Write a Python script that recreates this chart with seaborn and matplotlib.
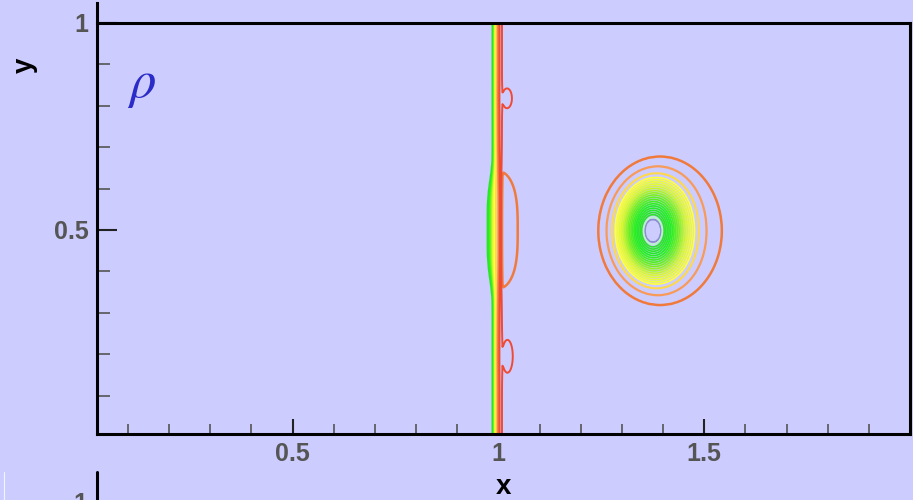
import numpy as np
import matplotlib
matplotlib.use("Agg")
import matplotlib.pyplot as plt
import seaborn as sns

# ---------------------------------------------------------------------------
# Flow-field description (density rho) used to build the contour field
# ---------------------------------------------------------------------------
X_RANGE = (0.0, 2.0)
Y_RANGE = (0.0, 1.0)
DX, DY = 0.0025, 0.004

# states either side of the shock and the extent of the jump
Q_LEFT, Q_RIGHT = 0.09, 1.0
SHOCK_X = [0.986, 1.003]          # start / end of the jump
SHOCK_WIDEN = 0.013               # extra spread of the jump around mid-height
SHOCK_WIDEN_Y = [0.5, 0.13]       # centre, half-height of that spread
OVERSHOOT = [1.0055, 0.0024, 0.40]  # position, width, amplitude behind the shock

# low-density pocket just behind the shock (bulge of the orange line)
POCKET = [1.0, 0.5, 0.047, 0.142, 0.20]   # x0, y0, half-width, half-height, depth

# overshoot islands just behind the shock
ISLAND_X = [1.021, 1.022]
ISLAND_Y = [0.818, 0.195]
ISLAND_RX = [0.012, 0.013]
ISLAND_RY = [0.024, 0.040]
ISLAND_AMP = [0.20, 0.20]

# bubble: outer ring, core centre and radial density profile
BUBBLE_C = [1.393, 0.498]
BUBBLE_R = [0.150, 0.179]
CORE_C = [1.375, 0.498]
CORE_SQUEEZE = 0.85
PROFILE_R = [0.00, 0.16, 0.74, 0.78, 0.87, 1.00, 1.15]
PROFILE_Q = [0.03, 0.06, 0.55, 0.60, 0.75, 0.90, 1.00]

# contour levels and their line colours
CORE_LEVELS = [0.06, 0.08]
CORE_COLORS = ["#8c8cd0", "#b8f4c8"]
DENSE_LEVELS = [0.11, 0.135, 0.16, 0.185, 0.21, 0.235, 0.26, 0.285, 0.31,
                0.335, 0.36, 0.385, 0.41, 0.435, 0.46, 0.485, 0.51, 0.535]
OUTER_LEVELS = [0.60, 0.75, 0.90, 1.10]
OUTER_COLORS = ["#ffd84a", "#f89a58", "#f07a3c", "#f04a34"]

# axes
X_LIM = (0.025, 2.0)
Y_LIM = (0.007, 1.0)
X_MAJOR = [0.5, 1.0, 1.5]
X_MAJOR_LABELS = ["0.5", "1", "1.5"]
X_MINOR = [0.1, 0.2, 0.3, 0.4, 0.6, 0.7, 0.8, 0.9, 1.1, 1.2, 1.3, 1.4,
           1.6, 1.7, 1.8, 1.9]
Y_MAJOR = [0.5, 1.0]
Y_MAJOR_LABELS = ["0.5", "1"]
Y_MINOR = [0.1, 0.2, 0.3, 0.4, 0.6, 0.7, 0.8, 0.9]

BG = "#ccccff"

# ---------------------------------------------------------------------------
sns.set_theme(style="white", rc={"axes.facecolor": BG, "figure.facecolor": BG})
plt.rcParams["font.family"] = ["Liberation Sans", "DejaVu Sans"]
plt.rcParams["mathtext.fontset"] = "stix"

x = np.arange(X_RANGE[0], X_RANGE[1] + DX / 2, DX)
y = np.arange(Y_RANGE[0], Y_RANGE[1] + DY / 2, DY)
X, Y = np.meshgrid(x, y)

# shock ramp
xa = SHOCK_X[0] - SHOCK_WIDEN * np.exp(-((Y - SHOCK_WIDEN_Y[0]) / SHOCK_WIDEN_Y[1]) ** 4)
t = np.clip((X - xa) / (SHOCK_X[1] - xa), 0.0, 1.0)

# bubble radial coordinate (outer ellipse blended into the offset core)
r1 = np.hypot((X - BUBBLE_C[0]) / BUBBLE_R[0], (Y - BUBBLE_C[1]) / BUBBLE_R[1])
r2 = np.hypot((X - CORE_C[0]) / (BUBBLE_R[0] * CORE_SQUEEZE), (Y - CORE_C[1]) / BUBBLE_R[1])
w = np.clip(r1, 0.0, 1.0) ** 2
r = w * r1 + (1 - w) * r2
q_bubble = np.interp(r, PROFILE_R, PROFILE_Q) * Q_RIGHT

d = (np.abs(X - POCKET[0]) / POCKET[2]) ** 2 + (np.abs(Y - POCKET[1]) / POCKET[3]) ** 3
pocket = POCKET[4] * 0.5 ** d

islands = np.zeros_like(X)
for cx, cy, rx, ry, a in zip(ISLAND_X, ISLAND_Y, ISLAND_RX, ISLAND_RY, ISLAND_AMP):
    islands += a * 0.5 ** (((X - cx) / rx) ** 2 + ((Y - cy) / ry) ** 2)

over = OVERSHOOT[2] * np.exp(-((X - OVERSHOOT[0]) / OVERSHOOT[1]) ** 2)

right_state = q_bubble - pocket + islands + over
Q = Q_LEFT + (right_state - Q_LEFT) * t

levels = CORE_LEVELS + DENSE_LEVELS + OUTER_LEVELS
dense_colors = sns.blend_palette(["#30e030", "#22f022", "#70f020", "#d8f830", "#ffff40"],
                                 len(DENSE_LEVELS), as_cmap=False)
colors = CORE_COLORS + [matplotlib.colors.to_hex(c) for c in dense_colors] + OUTER_COLORS
widths = [1.3, 1.3] + [1.25] * len(DENSE_LEVELS) + [1.5, 1.6, 1.8, 1.4]

fig = plt.figure(figsize=(9.13, 5.0), dpi=100)
fig.patch.set_facecolor(BG)
ax = fig.add_axes([97 / 913, 66 / 500, 813 / 913, 411 / 500])
ax.set_facecolor(BG)
ax.contour(X, Y, Q, levels=levels, colors=colors, linewidths=widths, zorder=1)

ax.set_xlim(*X_LIM)
ax.set_ylim(*Y_LIM)
ax.set_xticks(X_MAJOR)
ax.set_xticklabels(X_MAJOR_LABELS)
ax.set_xticks(X_MINOR, minor=True)
ax.set_yticks(Y_MAJOR)
ax.set_yticklabels(Y_MAJOR_LABELS)
ax.set_yticks(Y_MINOR, minor=True)

ax.tick_params(axis="both", which="both", direction="in", top=False, right=False,
               bottom=True, left=True)
ax.tick_params(axis="x", which="major", length=10.5, width=1.5, color="#222222",
               pad=6, labelsize=18, labelcolor="#555555")
ax.tick_params(axis="x", which="minor", length=7, width=1.2, color="#555555")
ax.tick_params(axis="y", which="major", length=14.5, width=1.5, color="#222222",
               pad=6, labelsize=18, labelcolor="#555555")
ax.tick_params(axis="y", which="minor", length=9.5, width=1.2, color="#555555")
for lab in ax.get_xticklabels() + ax.get_yticklabels():
    lab.set_fontweight("bold")

for s in ax.spines.values():
    s.set_color("black")
    s.set_linewidth(2.2)
    s.set_visible(True)
ax.spines["left"].set_bounds(Y_LIM[0], 1.048)
ax.grid(False)

fig.text(503 / 913, 1 - 487 / 500, "x", ha="center", va="center",
         fontsize=20, fontweight="bold", color="black")
fig.text(25 / 913, 1 - 65 / 500, "y", ha="center", va="center", rotation=90,
         fontsize=20, fontweight="bold", color="black")
fig.text(141 / 913, 1 - 85 / 500, r"$\rho$", ha="center", va="center",
         fontsize=38, color="#2b2bc8")

# top edge of the panel below
fig.add_artist(plt.Line2D([97 / 913, 97 / 913], [0.0, 1 - 472 / 500],
                          color="black", linewidth=2.2))
fig.add_artist(plt.Line2D([4 / 913, 4 / 913], [0.0, 1 - 472 / 500],
                          color="#f4f4ff", linewidth=0.8))
fig.text(80 / 913, 1 - 492 / 500, "1", ha="center", va="top",
         fontsize=18, fontweight="bold", color="#555555")

fig.savefig("out.png", dpi=100, facecolor=BG)
